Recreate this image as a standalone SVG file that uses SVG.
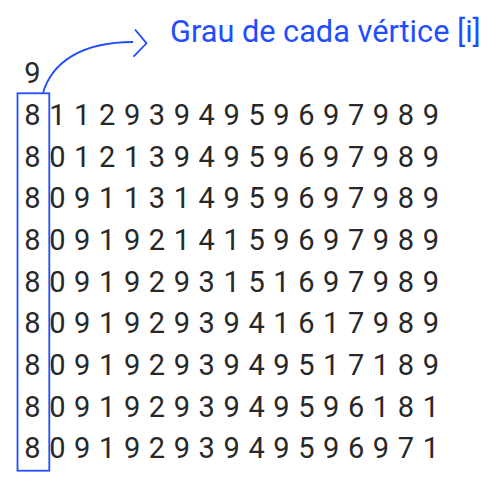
<svg xmlns="http://www.w3.org/2000/svg" width="498" height="489" viewBox="0 0 498 489">
<style>
.d{font-family:Roboto,"Liberation Sans",sans-serif;font-size:29px;fill:#282828;letter-spacing:8.6px}
.t{font-family:Roboto,"Liberation Sans",sans-serif;font-size:30.7px;fill:#1f4dff}
.b{fill:none;stroke:#1f4dff;stroke-width:1.8}
</style>
<rect width="498" height="489" fill="#ffffff"/>
<g id="label"><text class="t" x="170" y="41.7">Grau de cada vértice [i]</text></g>
<g id="matrix">
<text class="d" x="24.3" y="83.3">9</text>
<text class="d" x="24.3" y="124.8">81129394959697989</text>
<text class="d" x="24.3" y="166.5">80121394959697989</text>
<text class="d" x="24.3" y="208.2">80911314959697989</text>
<text class="d" x="24.3" y="249.9">80919214159697989</text>
<text class="d" x="24.3" y="291.6">80919293151697989</text>
<text class="d" x="24.3" y="333.3">80919293941617989</text>
<text class="d" x="24.3" y="375">80919293949517189</text>
<text class="d" x="24.3" y="416.7">80919293949596181</text>
<text class="d" x="24.3" y="458.4">80919293949596971</text>
</g>
<g id="highlight"><rect class="b" x="17.5" y="93.3" width="31.8" height="377.4"/></g>
<g id="connectors">
<path class="b" d="M43,93 C52,62 82,42 133,42"/>
<path class="b" d="M135,29.5 L146.5,43.3 L133.5,56.7"/>
</g>
</svg>
